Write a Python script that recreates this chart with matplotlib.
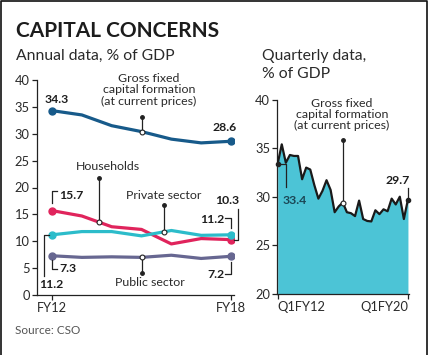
import matplotlib.pyplot as plt
import numpy as np

plt.rcParams['font.family'] = ['Lato', 'DejaVu Sans']

# annual data, % of GDP (FY12..FY18)
years = ['FY12', 'FY13', 'FY14', 'FY15', 'FY16', 'FY17', 'FY18']
gfcf = [34.3, 33.5, 31.5, 30.4, 29.0, 28.3, 28.6]
households = [15.7, 14.7, 12.7, 12.2, 9.5, 10.5, 10.3]
private = [11.2, 11.8, 11.8, 11.0, 12.0, 11.1, 11.2]
public = [7.3, 7.0, 7.1, 7.0, 7.4, 6.8, 7.2]

# quarterly GFCF, % of GDP (Q1FY12..Q1FY20)
quarterly = [33.4, 35.4, 33.5, 34.3, 34.2, 34.2, 31.8, 33.0, 32.8, 31.2, 29.8,
             30.6, 31.7, 30.7, 28.4, 29.0, 29.4, 28.4, 28.3, 28.0, 29.6, 27.7,
             27.5, 27.45, 28.6, 28.2, 28.7, 28.5, 29.8, 29.2, 30.0, 27.7, 29.7]
q_ticks = ['Q1FY12', 'Q1FY20']

W, H = 432, 355
TXT = '#2a2a2a'


def fx(x):
    return x / W


def fy(y):
    return 1 - y / H


fig = plt.figure(figsize=(W / 100, H / 100), dpi=100)

# outer frame
fig.add_artist(plt.Line2D([fx(1), fx(1), fx(427), fx(427)], [0, fy(1), fy(1), 0],
                          color='#111111', lw=1.2))

fig.text(fx(16), fy(36.7), 'CAPITAL CONCERNS', fontsize=15, fontweight='bold',
         color='#1c1c1c', va='baseline')
fig.text(fx(16), fy(60), 'Annual data, % of GDP', fontsize=11.3, color=TXT, va='baseline')
fig.text(fx(262), fy(60), 'Quarterly data,', fontsize=11.3, color=TXT, va='baseline')
fig.text(fx(262), fy(77.7), '% of GDP', fontsize=11.3, color=TXT, va='baseline')
fig.text(fx(15), fy(331), 'Source: CSO', fontsize=8.5, color='#555555', va='center')


def style(ax):
    for s in ['top', 'right']:
        ax.spines[s].set_visible(False)
    for s in ['left', 'bottom']:
        ax.spines[s].set_color('#222222')
        ax.spines[s].set_linewidth(0.9)
    ax.tick_params(direction='out', length=3.5, width=0.9, color='#222222',
                   labelsize=9.3, labelcolor=TXT, pad=1.5)


# ---- annual panel ----
ax = fig.add_axes([fx(36.7), fy(295), (234 - 36.7) / W, (295 - 80) / H])
x = np.arange(len(years))
cols = {'gfcf': '#175a8a', 'hh': '#e0245c', 'pr': '#2cbcca', 'pu': '#676791'}
for vals, c in [(gfcf, cols['gfcf']), (households, cols['hh']),
                (private, cols['pr']), (public, cols['pu'])]:
    ax.plot(x, vals, color=c, lw=2.3, solid_capstyle='round', zorder=3)
    ax.plot([x[0], x[-1]], [vals[0], vals[-1]], 'o', color=c, ms=5, zorder=4)
ax.set_xlim(-0.513, 6.1)
ax.set_ylim(0, 40)
ax.set_yticks(range(0, 41, 5))
ax.set_xticks([0, 6])
ax.set_xticklabels([years[0], years[-1]])
style(ax)

kw = dict(color='#222222', lw=0.9, clip_on=False, zorder=5)


def leader(a, xv, series, ytop):
    yv = np.interp(xv, np.arange(len(series)), series)
    a.plot([xv, xv], [yv, ytop], **kw)
    a.plot(xv, ytop, 'o', color='#222222', ms=2.5, clip_on=False, zorder=6)
    a.plot(xv, yv, 'o', mfc='white', mec='#222222', mew=0.8, ms=3.5, clip_on=False, zorder=6)


leader(ax, 3.02, gfcf, 33.2)
leader(ax, 1.57, households, 21.7)
leader(ax, 3.75, private, 16.7)
leader(ax, 3.02, public, 4.1)

lab = dict(fontsize=8.9, color=TXT, ha='center', va='center')
fig.text(fx(149), fy(90), 'Gross fixed\ncapital formation\n(at current prices)',
         linespacing=1.05, **lab)
fig.text(fx(107.5), fy(167), 'Households', **lab)
fig.text(fx(163.5), fy(195.5), 'Private sector', **lab)
fig.text(fx(150), fy(282), 'Public sector', **lab)

num = dict(fontsize=8.8, fontweight='bold', color='#1e1e1e', va='center')
fig.text(fx(56.7), fy(99), '%.1f' % gfcf[0], ha='center', **num)
fig.text(fx(224.5), fy(127.5), '%.1f' % gfcf[-1], ha='center', **num)
fig.text(fx(59), fy(195), '%.1f' % households[0], ha='left', **num)
fig.text(fx(51.5), fy(285), '%.1f' % private[0], ha='center', **num)
fig.text(fx(59), fy(269), '%.1f' % public[0], ha='left', **num)
fig.text(fx(227.5), fy(201), '%.1f' % households[-1], ha='center', **num)
fig.text(fx(224), fy(219.5), '%.1f' % private[-1], ha='right', **num)
fig.text(fx(224), fy(274), '%.1f' % public[-1], ha='right', **num)

# brackets
ax.plot([0, 0, 0.17], [17.1, 19.35, 19.35], **kw)
ax.plot([-0.1, -0.27, -0.27], [private[0], private[0], 3.5], **kw)
ax.plot([0, 0, 0.17], [6.5, 4.84, 4.84], **kw)
ax.plot([6.1, 6.23, 6.23], [households[-1], households[-1], 16.0], **kw)
ax.plot([5.8, 6.0, 6.0], [14.38, 14.38, 12.5], **kw)
ax.plot([5.8, 6.0, 6.0], [3.9, 3.9, 6.1], **kw)

# ---- quarterly panel ----
bx = fig.add_axes([fx(277), fy(293.7), (409 - 277) / W, (293.7 - 99.7) / H])
q = np.arange(len(quarterly))
bx.fill_between(q, quarterly, 20, color='#4cc4d6', lw=0, zorder=2)
bx.plot(q, quarterly, color='#1a1a1a', lw=1.6, zorder=3)
bx.set_xlim(-0.17, 32.26)
bx.set_ylim(20, 40)
bx.set_yticks(range(20, 41, 5))
bx.set_xticks([0, 32])
bx.set_xticklabels(q_ticks)
style(bx)
tl = bx.get_xticklabels()
tl[0].set_ha('left')
tl[1].set_ha('right')
bx.tick_params(axis='x', length=3.5)

leader(bx, 16.1, quarterly, 35.85)
fig.text(fx(341.7), fy(114.5), 'Gross fixed\ncapital formation\n(at current prices)',
         linespacing=1.05, **lab)

bx.plot([0, 1.97, 1.97], [quarterly[0], quarterly[0], 31.0], **kw)
bx.plot(0, quarterly[0], 'o', color='#222222', ms=3, clip_on=False, zorder=6)
fig.text(fx(294.5), fy(200), '%.1f' % quarterly[0], ha='center', fontsize=8.8,
         fontweight='bold', color='#1b4756', va='center')
bx.plot([32, 32], [quarterly[-1], 30.9], **kw)
bx.plot(32, quarterly[-1], 'o', color='#222222', ms=3, clip_on=False, zorder=6)
fig.text(fx(398), fy(180), '%.1f' % quarterly[-1], ha='center', **num)

fig.savefig('out.png', dpi=100)
